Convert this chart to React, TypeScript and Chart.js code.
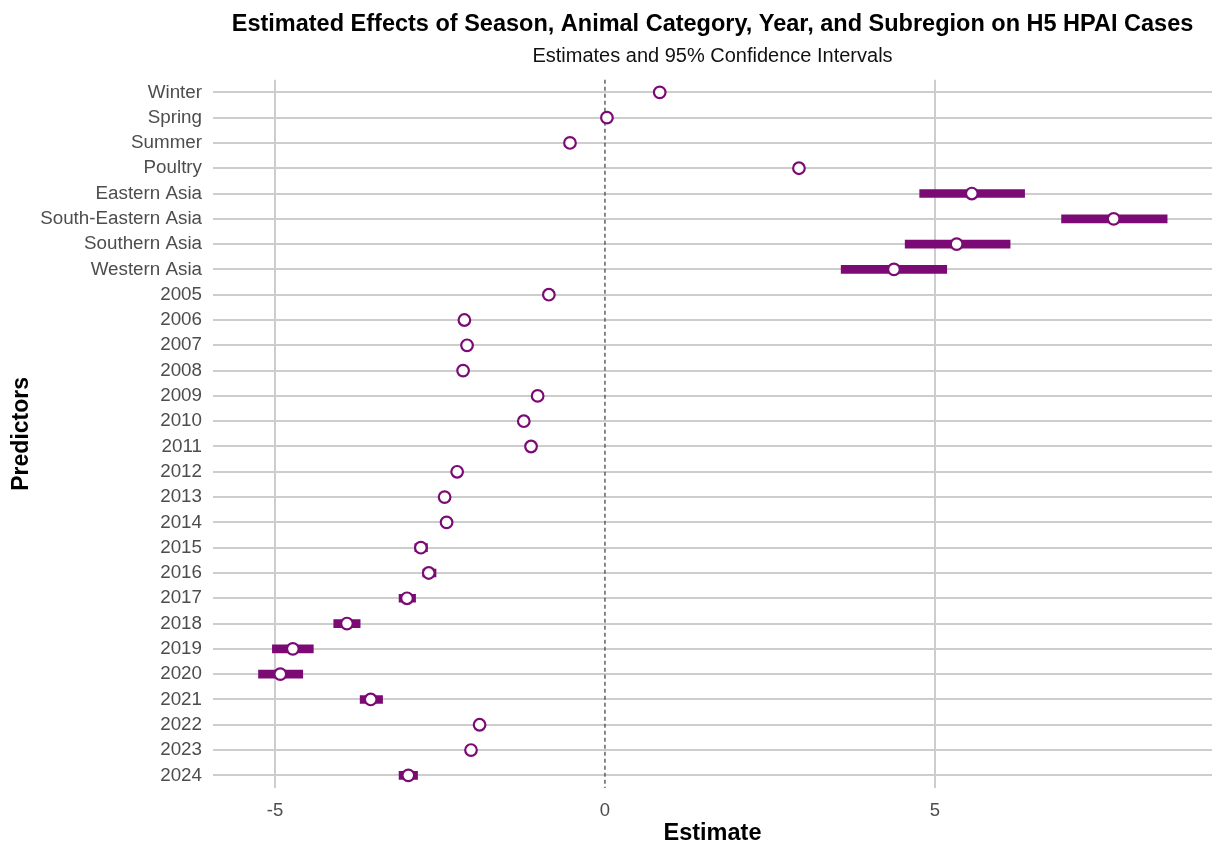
import React, { useEffect, useRef } from "react";
import { Chart, registerables } from "chart.js";

Chart.register(...registerables);

const predictors = [
  "Winter", "Spring", "Summer", "Poultry",
  "Eastern Asia", "South-Eastern Asia", "Southern Asia", "Western Asia",
  "2005", "2006", "2007", "2008", "2009", "2010", "2011", "2012", "2013", "2014",
  "2015", "2016", "2017", "2018", "2019", "2020", "2021", "2022", "2023", "2024",
];

const estimates = [
  0.83, 0.03, -0.53, 2.94,
  5.56, 7.71, 5.33, 4.38,
  -0.85, -2.13, -2.09, -2.15, -1.02, -1.23, -1.12, -2.24, -2.43, -2.40,
  -2.79, -2.67, -3.0, -3.91, -4.73, -4.92, -3.55, -1.90, -2.03, -2.98,
];

const lowerCI = [
  0.77, -0.03, -0.59, 2.88,
  4.77, 6.92, 4.55, 3.58,
  -0.91, -2.19, -2.15, -2.21, -1.08, -1.29, -1.18, -2.30, -2.49, -2.46,
  -2.88, -2.76, -3.12, -4.11, -5.04, -5.25, -3.71, -1.96, -2.09, -3.12,
];

const upperCI = [
  0.89, 0.09, -0.47, 3.0,
  6.36, 8.52, 6.14, 5.18,
  -0.79, -2.07, -2.03, -2.09, -0.96, -1.17, -1.06, -2.18, -2.37, -2.34,
  -2.69, -2.56, -2.87, -3.71, -4.42, -4.58, -3.37, -1.84, -1.97, -2.84,
];

const xTicks = [-5, 0, 5];
const xMin = -5.94;
const xMax = 9.2;

const PURPLE = "#7B0A74";
const GRID = "#cdcdcd";
const FONT = "'Liberation Sans', Arial, sans-serif";

const zeroLinePlugin = {
  id: "zeroLine",
  beforeDatasetsDraw(chart: any) {
    const { ctx, chartArea, scales } = chart;
    const x = scales.x.getPixelForValue(0);
    ctx.save();
    ctx.strokeStyle = "#4a4a4a";
    ctx.lineWidth = 1.3;
    ctx.setLineDash([4, 3]);
    ctx.beginPath();
    ctx.moveTo(x, chartArea.top);
    ctx.lineTo(x, chartArea.bottom);
    ctx.stroke();
    ctx.restore();
  },
};

export default function App() {
  const ref = useRef<HTMLCanvasElement>(null);

  useEffect(() => {
    if (!ref.current) return;
    const chart = new Chart(ref.current, {
      type: "bar",
      data: {
        labels: predictors,
        datasets: [
          {
            type: "line",
            label: "Estimate",
            data: estimates,
            showLine: false,
            pointStyle: "circle",
            pointRadius: 5.8,
            pointBorderWidth: 2.2,
            pointBackgroundColor: "#ffffff",
            pointBorderColor: PURPLE,
            order: 1,
          } as any,
          {
            type: "bar",
            label: "95% CI",
            data: predictors.map((_, i) => [lowerCI[i], upperCI[i]]),
            backgroundColor: PURPLE,
            borderWidth: 0,
            barThickness: 8,
            order: 2,
          } as any,
        ],
      },
      options: {
        indexAxis: "y",
        animation: false,
        responsive: false,
        maintainAspectRatio: false,
        layout: { padding: { left: 0, right: 11, top: 0, bottom: 0 } },
        plugins: {
          legend: { display: false },
          tooltip: { enabled: false },
          title: {
            display: true,
            fullSize: false,
            text: "Estimated Effects of Season, Animal Category, Year, and Subregion on H5 HPAI Cases",
            color: "#000000",
            font: { family: FONT, size: 23.5, weight: "bold", lineHeight: 1.2 },
            padding: { top: 10, bottom: 6.5 },
          },
          subtitle: {
            display: true,
            fullSize: false,
            text: "Estimates and 95% Confidence Intervals",
            color: "#111111",
            font: { family: FONT, size: 20, lineHeight: 1.2 },
            padding: { top: 0, bottom: 11 },
          },
        },
        scales: {
          x: {
            type: "linear",
            min: xMin,
            max: xMax,
            afterBuildTicks: (scale: any) => {
              scale.ticks = xTicks.map((v) => ({ value: v }));
            },
            afterFit: (scale: any) => {
              scale.height = 58;
            },
            grid: {
              color: (c: any) => (c.tick && c.tick.value === 0 ? "rgba(0,0,0,0)" : GRID),
              lineWidth: 2,
              drawTicks: false,
            },
            border: { display: false },
            ticks: {
              color: "#4d4d4d",
              font: { family: FONT, size: 18.5 },
              padding: 12,
            },
            title: {
              display: true,
              text: "Estimate",
              color: "#000000",
              font: { family: FONT, size: 23.5, weight: "bold", lineHeight: 1.1 },
              padding: { top: 0, bottom: 0 },
            },
          },
          y: {
            type: "category",
            offset: true,
            afterFit: (scale: any) => {
              scale.width = 213;
            },
            grid: {
              offset: false,
              color: GRID,
              lineWidth: 2,
              drawTicks: false,
            },
            border: { display: false },
            ticks: {
              color: "#4d4d4d",
              font: { family: FONT, size: 18.8 },
              padding: 11,
              autoSkip: false,
            },
            title: {
              display: true,
              text: "Predictors",
              color: "#000000",
              font: { family: FONT, size: 23, weight: "bold", lineHeight: 1.2 },
              padding: { top: 8, bottom: 0 },
            },
          },
        },
      } as any,
      plugins: [zeroLinePlugin],
    });
    return () => chart.destroy();
  }, []);

  return (
    <div style={{ position: "fixed", left: 0, top: 0, width: 1223, height: 846, background: "#ffffff" }}>
      <canvas ref={ref} width={1223} height={846} style={{ width: 1223, height: 846, display: "block" }} />
    </div>
  );
}
